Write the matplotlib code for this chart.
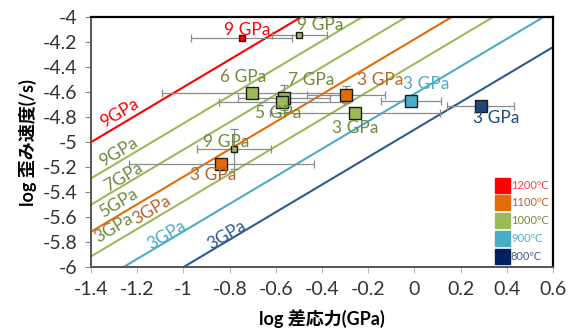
import numpy as np
import matplotlib.pyplot as plt

plt.rcParams['font.family'] = ['Lato', 'Noto Sans CJK JP', 'DejaVu Sans']

# colours
RED = '#FF0000'
ORANGE = '#E36C09'
GREEN = '#9BBB59'
LBLUE = '#4BACC6'
DBLUE = '#2E5A8F'
NAVY = '#1F497D'
T_GREEN = '#6E8A3C'
T_ORANGE = '#B8642A'

# flow-law lines: log rate = n*log stress + c
n_exp = 1.1
line_c = [-3.46, -3.75, -3.96, -4.177, -4.374, -4.614, -4.9]
line_col = [RED, GREEN, GREEN, ORANGE, GREEN, LBLUE, DBLUE]

line_lab = ['9GPa', '9GPa', '7GPa', '5GPa', '3GPa', '3GPa', '3GPa', '3GPa']
line_lab_x = [-1.275, -1.28, -1.26, -1.28, -1.30, -1.137, -1.072, -0.813]
line_lab_y = [-4.77, -5.08, -5.28, -5.49, -5.69, -5.544, -5.744, -5.744]
line_lab_col = [RED, T_GREEN, T_GREEN, T_GREEN, T_GREEN, T_ORANGE, LBLUE, DBLUE]

# data points
pt_x = [-0.748, -0.498, -0.704, -0.565, -0.575, -0.296, -0.257, -0.015, 0.287, -0.781, -0.836]
pt_y = [-4.17, -4.14, -4.61, -4.645, -4.68, -4.62, -4.77, -4.672, -4.712, -5.058, -5.178]
pt_xerr = [0.22, 0.12, 0.39, 0.2, 0.27, 0.17, 0.37, 0.13, 0.145, 0.16, 0.40]
pt_yerr = [0, 0, 0, 0.1, 0, 0.07, 0, 0, 0, 0.16, 0]
pt_col = [RED, GREEN, GREEN, GREEN, GREEN, ORANGE, GREEN, LBLUE, NAVY, GREEN, ORANGE]
pt_size = [4.5, 4.5, 8, 8, 8, 9, 9, 9, 9, 4.5, 9]

pt_lab = ['9 GPa', '9 GPa', '6 GPa', '7 GPa', '3 GPa', '5 GPa', '3 GPa', '3 GPa', '3 GPa', '9 GPa', '3 GPa']
pt_lab_x = [-0.726, -0.409, -0.741, -0.445, -0.149, -0.589, -0.257, 0.053, 0.356, -0.813, -0.871]
pt_lab_y = [-4.10, -4.064, -4.477, -4.504, -4.504, -4.77, -4.89, -4.536, -4.81, -4.997, -5.264]
pt_lab_col = [RED, T_GREEN, T_GREEN, T_GREEN, T_ORANGE, T_GREEN, T_GREEN, LBLUE, NAVY, T_GREEN, T_ORANGE]

leg_lab = ['1200ºC', '1100ºC', '1000ºC', '900ºC', '800ºC']
leg_col = [RED, ORANGE, GREEN, LBLUE, '#002060']
leg_txt = ['#FF4040', T_ORANGE, T_GREEN, LBLUE, '#4A5F8A']

fig = plt.figure(figsize=(5.73, 3.36), dpi=100)
ax = fig.add_axes([0.159, 0.205, 0.806, 0.744])

xs = np.linspace(-1.4, 0.6, 200)
for c, col in zip(line_c, line_col):
    ax.plot(xs, n_exp * xs + c, color=col, lw=1.5, zorder=2)

# rotation of the lines on screen
ang = np.degrees(np.arctan(n_exp * (0.744 * 3.36 / 2.0) / (0.806 * 5.73 / 2.0)))
for t, x, y, col in zip(line_lab, line_lab_x, line_lab_y, line_lab_col):
    ax.text(x, y, t, color=col, fontsize=12.5, rotation=ang, ha='center', va='center',
            rotation_mode='anchor', zorder=4)

for i in range(len(pt_x)):
    ax.errorbar(pt_x[i], pt_y[i], xerr=pt_xerr[i], yerr=pt_yerr[i] if pt_yerr[i] else None,
                fmt='none', ecolor='#8C8C8C', elinewidth=0.9, capsize=3, capthick=0.9, zorder=3)
for i in range(len(pt_x)):
    ax.plot(pt_x[i], pt_y[i], 's', ms=pt_size[i], mfc=pt_col[i], mec='#1A1A1A', mew=1.0, zorder=5)

for t, x, y, col in zip(pt_lab, pt_lab_x, pt_lab_y, pt_lab_col):
    ax.text(x, y, t, color=col, fontsize=12.5, ha='center', va='center', zorder=6)

# legend boxes
for i, (t, col, tc) in enumerate(zip(leg_lab, leg_col, leg_txt)):
    yy = 0.328 - i * 0.071
    ax.add_patch(plt.Rectangle((0.874, yy - 0.03), 0.033, 0.06, transform=ax.transAxes,
                               color=col, zorder=6))
    ax.text(0.909, yy, t, transform=ax.transAxes, color=tc, fontsize=8,
            ha='left', va='center', zorder=6)

ax.set_xlim(-1.4, 0.6)
ax.set_ylim(-6, -4)
ax.set_xticks(np.arange(-1.4, 0.61, 0.2))
ax.set_xticklabels(['-1.4', '-1.2', '-1', '-0.8', '-0.6', '-0.4', '-0.2', '0', '0.2', '0.4', '0.6'])
ax.set_yticks(np.arange(-6, -3.99, 0.2))
ax.set_yticklabels(['-6', '-5.8', '-5.6', '-5.4', '-5.2', '-5', '-4.8', '-4.6', '-4.4', '-4.2', '-4'])
ax.tick_params(axis='both', labelsize=14, colors='#333333', length=4, width=0.8,
               direction='out', pad=6)
ax.tick_params(axis='x', color='#BBBBBB')
ax.tick_params(axis='y', color='#888888')
for s in ['top', 'right']:
    ax.spines[s].set_color('black')
    ax.spines[s].set_linewidth(1.6)
for s in ['left', 'bottom']:
    ax.spines[s].set_color('#555555')
    ax.spines[s].set_linewidth(1.4)

ax.set_xlabel('log 差応力(GPa)', fontsize=13, fontweight='bold', labelpad=8)
ax.set_ylabel('log 歪み速度(/s)', fontsize=13, fontweight='bold', labelpad=4)

fig.savefig('out.png', dpi=100)
